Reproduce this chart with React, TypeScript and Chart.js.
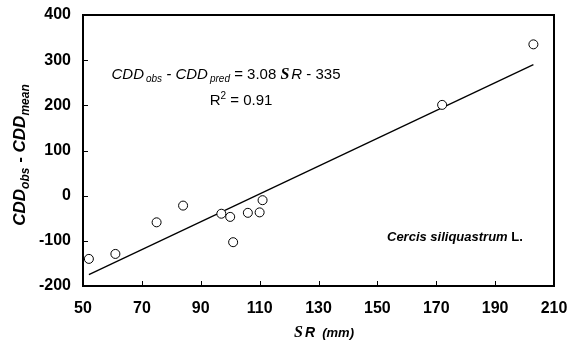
import React, { useEffect, useRef } from "react";
import { Chart, registerables } from "chart.js";

Chart.register(...registerables);

// ---- data ----
const SR_VALUES = [52, 61, 75, 84, 97, 100, 101, 106, 110, 111, 172, 203];
const CDD_DIFF = [-140, -129, -59, -22, -40, -47, -103, -38, -37, -10, 201, 335];
const FIT_SLOPE = 3.08;
const FIT_INTERCEPT = -335;
const X_TICKS = [50, 70, 90, 110, 130, 150, 170, 190, 210];
const Y_TICKS = [-200, -100, 0, 100, 200, 300, 400];

const SANS = "'Liberation Sans', Arial, sans-serif";
const SERIF = "'Liberation Serif', 'Times New Roman', serif";

type Seg = { text: string; font: string; dy?: number; gap?: number };

function measure(ctx: CanvasRenderingContext2D, segs: Seg[]) {
  let w = 0;
  for (const s of segs) {
    ctx.font = s.font;
    w += ctx.measureText(s.text).width + (s.gap || 0);
  }
  return w;
}

function drawRich(ctx: CanvasRenderingContext2D, segs: Seg[], x: number, y: number, align: "left" | "center") {
  const total = measure(ctx, segs);
  let cx = align === "center" ? x - total / 2 : x;
  ctx.textAlign = "left";
  ctx.textBaseline = "alphabetic";
  for (const s of segs) {
    ctx.font = s.font;
    cx += s.gap || 0;
    ctx.fillText(s.text, cx, y + (s.dy || 0));
    cx += ctx.measureText(s.text).width;
  }
}

const decorPlugin = {
  id: "decor",
  afterDraw(chart: any) {
    const { ctx, chartArea: a } = chart;
    const xs = chart.scales.x;
    const ys = chart.scales.y;
    ctx.save();
    ctx.strokeStyle = "#000";
    ctx.fillStyle = "#000";
    // inner tick marks
    ctx.lineWidth = 1;
    ctx.beginPath();
    for (const v of X_TICKS) {
      const px = Math.round(xs.getPixelForValue(v)) + 0.5;
      ctx.moveTo(px, a.bottom);
      ctx.lineTo(px, a.bottom - 5);
    }
    for (const v of Y_TICKS) {
      const py = Math.round(ys.getPixelForValue(v)) + 0.5;
      ctx.moveTo(a.left, py);
      ctx.lineTo(a.left + 5, py);
    }
    ctx.stroke();
    // frame
    ctx.lineWidth = 2;
    ctx.strokeRect(a.left, a.top, a.right - a.left, a.bottom - a.top);

    // equation
    const it15 = `italic 15px ${SANS}`;
    const it10 = `italic 10px ${SANS}`;
    const r15 = `15px ${SANS}`;
    drawRich(
      ctx,
      [
        { text: "CDD", font: it15 },
        { text: "obs", font: it10, dy: 3, gap: 2 },
        { text: " - CDD", font: it15 },
        { text: "pred", font: it10, dy: 3, gap: 2 },
        { text: " = 3.08 ", font: r15 },
        { text: "S", font: `bold italic 16px ${SERIF}` },
        { text: "R", font: it15, gap: 2 },
        { text: " - 335", font: r15 },
      ],
      226,
      79,
      "center"
    );
    drawRich(
      ctx,
      [
        { text: "R", font: r15 },
        { text: "2", font: `10px ${SANS}`, dy: -6 },
        { text: " = 0.91", font: r15 },
      ],
      241,
      105,
      "center"
    );

    // species label
    drawRich(
      ctx,
      [
        { text: "Cercis siliquastrum", font: `bold italic 13px ${SANS}` },
        { text: " L.", font: `bold 13px ${SANS}` },
      ],
      387,
      241,
      "left"
    );

    // x title
    drawRich(
      ctx,
      [
        { text: "S", font: `bold italic 16px ${SERIF}` },
        { text: "R", font: `bold italic 14px ${SANS}`, gap: 2 },
        { text: "  (mm)", font: `bold italic 13px ${SANS}` },
      ],
      324,
      337,
      "center"
    );

    // y title (rotated)
    ctx.translate(25, 155);
    ctx.rotate(-Math.PI / 2);
    const b17 = `bold italic 17px ${SANS}`;
    const b12 = `bold italic 12px ${SANS}`;
    drawRich(
      ctx,
      [
        { text: "CDD", font: b17 },
        { text: "obs", font: b12, dy: 4 },
        { text: " - ", font: `bold 17px ${SANS}` },
        { text: "CDD", font: b17 },
        { text: "mean", font: b12, dy: 4 },
      ],
      0,
      0,
      "center"
    );
    ctx.restore();
  },
};

export default function App() {
  const ref = useRef<HTMLCanvasElement | null>(null);

  useEffect(() => {
    document.body.style.margin = "0";
    const canvas = ref.current;
    if (!canvas) return;

    const points = SR_VALUES.map((x, i) => ({ x, y: CDD_DIFF[i] }));
    const xMin = Math.min(...SR_VALUES);
    const xMax = Math.max(...SR_VALUES);
    const fitLine = [
      { x: xMin, y: FIT_SLOPE * xMin + FIT_INTERCEPT },
      { x: xMax, y: FIT_SLOPE * xMax + FIT_INTERCEPT },
    ];

    const tickFont = { family: SANS, size: 16, weight: "bold" as const };

    const chart = new Chart(canvas, {
      type: "scatter",
      data: {
        datasets: [
          {
            label: "observed",
            data: points,
            showLine: false,
            pointStyle: "circle",
            pointRadius: 4.5,
            pointBorderWidth: 1,
            pointBackgroundColor: "#fff",
            pointBorderColor: "#000",
          },
          {
            label: "fit",
            data: fitLine,
            showLine: true,
            pointRadius: 0,
            borderColor: "#000",
            borderWidth: 1.3,
            fill: false,
          },
        ],
      },
      options: {
        animation: false,
        responsive: false,
        devicePixelRatio: 1,
        layout: { padding: { top: 15, right: 15, left: 0, bottom: 0 } },
        plugins: {
          legend: { display: false },
          tooltip: { enabled: false },
        },
        scales: {
          x: {
            type: "linear",
            min: 50,
            max: 210,
            afterBuildTicks: (s: any) => {
              s.ticks = X_TICKS.map((v) => ({ value: v }));
            },
            afterFit: (s: any) => {
              s.height = 61;
              s.paddingLeft = 0;
              s.paddingRight = 0;
              s.paddingTop = 0;
              s.paddingBottom = 0;
            },
            ticks: { font: tickFont, color: "#000", padding: 13, maxRotation: 0 },
            grid: { display: false, drawTicks: false },
            border: { display: false },
          },
          y: {
            type: "linear",
            min: -200,
            max: 400,
            afterBuildTicks: (s: any) => {
              s.ticks = Y_TICKS.map((v) => ({ value: v }));
            },
            afterFit: (s: any) => {
              s.width = 83;
              s.paddingLeft = 0;
              s.paddingRight = 0;
              s.paddingTop = 0;
              s.paddingBottom = 0;
            },
            ticks: { font: tickFont, color: "#000", padding: 12 },
            grid: { display: false, drawTicks: false },
            border: { display: false },
          },
        },
      },
      plugins: [decorPlugin],
    });

    return () => chart.destroy();
  }, []);

  return (
    <div style={{ width: 569, height: 347 }}>
      <canvas ref={ref} width={569} height={347} />
    </div>
  );
}
